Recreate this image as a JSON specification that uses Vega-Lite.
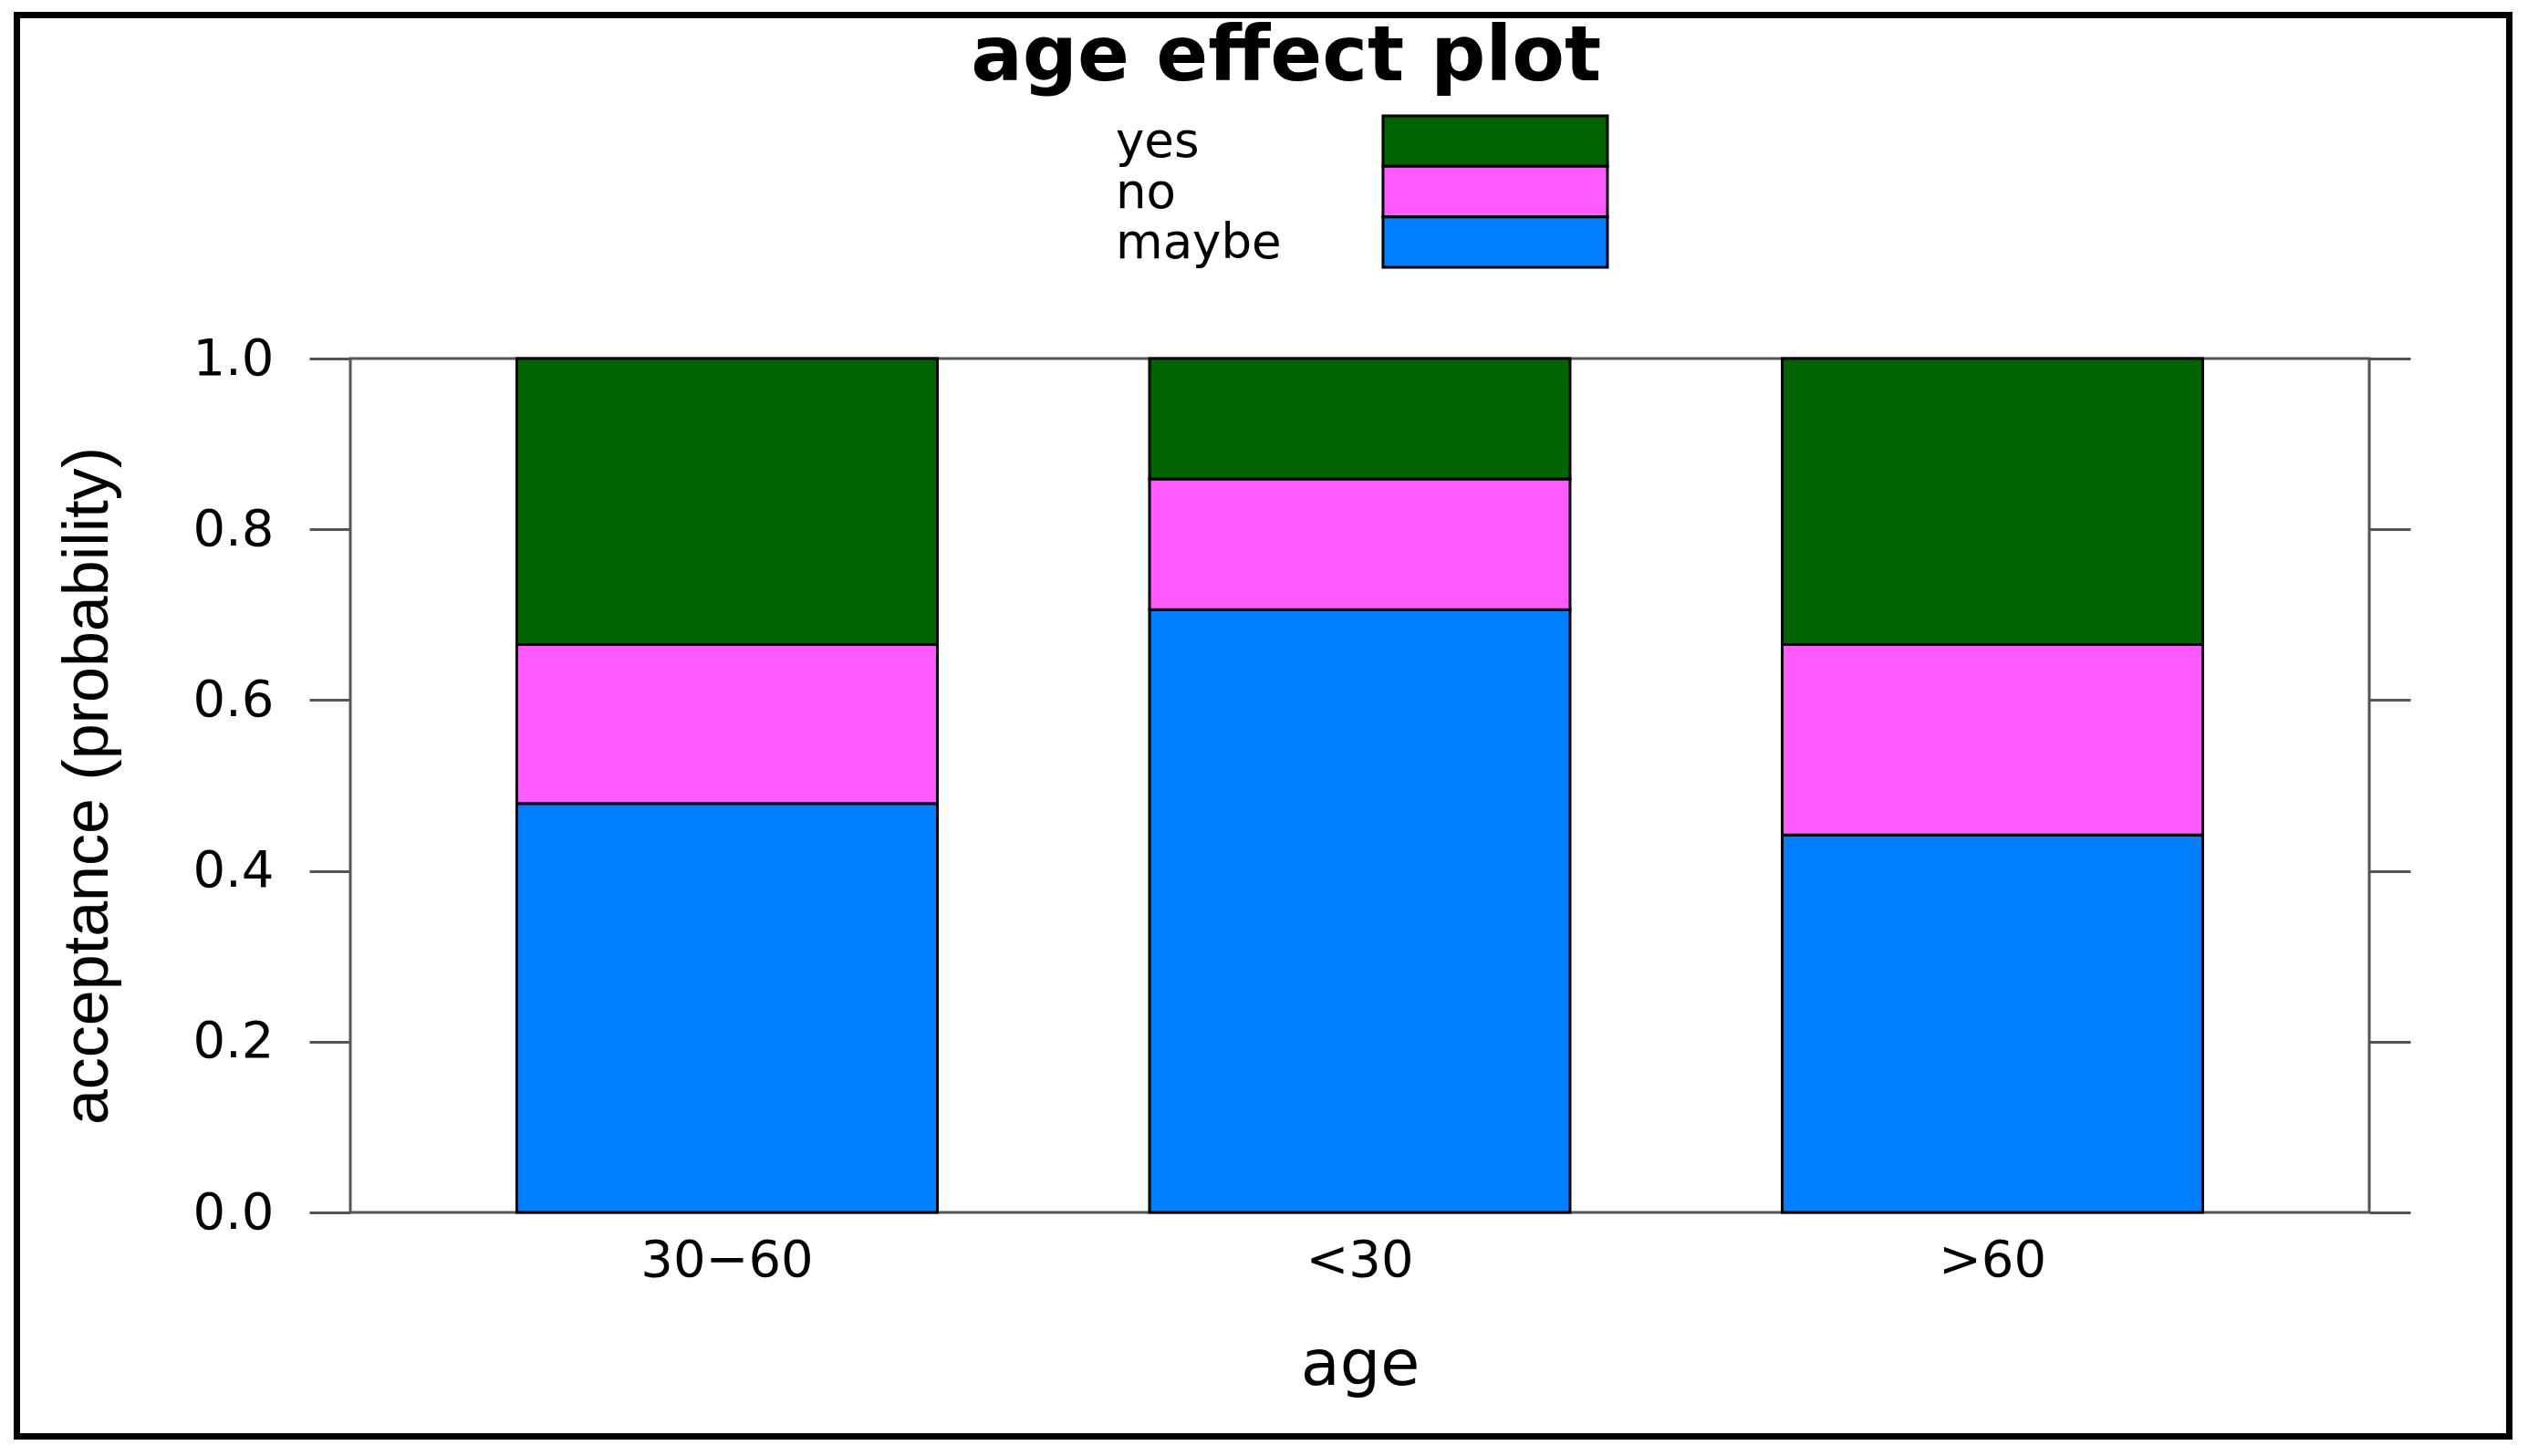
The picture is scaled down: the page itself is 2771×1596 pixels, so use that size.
{
  "$schema": "https://vega.github.io/schema/vega-lite/v6.json",
  "width": 2213,
  "height": 936,
  "autosize": {"type": "none"},
  "padding": {"left": 384, "top": 393, "right": 174, "bottom": 267},
  "background": "white",
  "config": {"view": {"stroke": null}},
  "datasets": {
    "probs": [
      {"age": "30−60", "response": "maybe", "p": 0.479},
      {"age": "30−60", "response": "no", "p": 0.186},
      {"age": "30−60", "response": "yes", "p": 0.335},
      {"age": "<30", "response": "maybe", "p": 0.706},
      {"age": "<30", "response": "no", "p": 0.153},
      {"age": "<30", "response": "yes", "p": 0.141},
      {"age": ">60", "response": "maybe", "p": 0.442},
      {"age": ">60", "response": "no", "p": 0.223},
      {"age": ">60", "response": "yes", "p": 0.335}
    ],
    "legend": [
      {"response": "yes"},
      {"response": "no"},
      {"response": "maybe"}
    ],
    "page": [
      {"title": "age effect plot"}
    ]
  },
  "resolve": {
    "scale": {"x": "independent", "y": "independent"},
    "axis": {"x": "independent", "y": "independent"}
  },
  "layer": [
    {
      "data": {"name": "page"},
      "encoding": {
        "x": {"datum": 0, "type": "quantitative", "scale": {"domain": [0, 1], "range": [-365.5, 2366.5], "nice": false, "zero": false}, "axis": null},
        "y": {"datum": 0, "type": "quantitative", "scale": {"domain": [0, 1], "range": [1181.5, -376.5], "nice": false, "zero": false}, "axis": null}
      },
      "layer": [
        {
          "mark": {"type": "rect", "fill": "transparent", "stroke": "black", "strokeWidth": 7},
          "encoding": {
            "x2": {"datum": 1},
            "y2": {"datum": 1}
          }
        },
        {
          "mark": {"type": "text", "align": "center", "baseline": "alphabetic", "font": "DejaVu Sans", "fontSize": 84, "fontWeight": "bold", "color": "black"},
          "encoding": {
            "x": {"datum": 0.5092, "type": "quantitative"},
            "y": {"datum": 0.9541, "type": "quantitative"},
            "text": {"field": "title"}
          }
        }
      ]
    },
    {
      "data": {"values": [{"item": "box"}]},
      "mark": {"type": "rect", "fill": "transparent", "stroke": "#555555", "strokeWidth": 3},
      "encoding": {
        "y": {
          "datum": 0,
          "type": "quantitative",
          "scale": {"domain": [0, 1], "nice": false},
          "axis": {
            "orient": "right",
            "values": [0, 0.2, 0.4, 0.6, 0.8, 1],
            "labels": false,
            "domain": false,
            "grid": false,
            "ticks": true,
            "tickSize": 45,
            "tickColor": "#555555",
            "tickWidth": 3,
            "title": null
          }
        },
        "y2": {"datum": 1}
      }
    },
    {
      "data": {"name": "probs"},
      "mark": {"type": "bar", "stroke": "black", "strokeWidth": 3},
      "encoding": {
        "x": {
          "field": "age",
          "type": "nominal",
          "sort": ["30−60", "<30", ">60"],
          "scale": {"paddingInner": 0.3353, "paddingOuter": 0.2632},
          "axis": {
            "orient": "bottom",
            "ticks": false,
            "tickSize": 0,
            "domain": false,
            "grid": false,
            "labelAngle": 0,
            "labelLimit": 0,
            "labelFont": "DejaVu Sans",
            "labelFontSize": 56,
            "labelColor": "black",
            "labelPadding": 25,
            "title": "age",
            "titleFont": "DejaVu Sans",
            "titleFontSize": 70,
            "titleFontWeight": "normal",
            "titleColor": "black",
            "titlePadding": 53
          }
        },
        "y": {
          "field": "p",
          "type": "quantitative",
          "stack": "zero",
          "scale": {"domain": [0, 1], "nice": false},
          "axis": {
            "orient": "left",
            "values": [0, 0.2, 0.4, 0.6, 0.8, 1],
            "format": ".1f",
            "domain": false,
            "grid": false,
            "ticks": true,
            "tickSize": 45,
            "tickColor": "#555555",
            "tickWidth": 3,
            "labelFlush": false,
            "labelOverlap": false,
            "labelFont": "DejaVu Sans",
            "labelFontSize": 56,
            "labelColor": "black",
            "labelPadding": 39,
            "title": "acceptance (probability)",
            "titleFont": "Liberation Sans",
            "titleFontSize": 70,
            "titleFontWeight": "normal",
            "titleColor": "black",
            "titlePadding": 78
          }
        },
        "color": {
          "field": "response",
          "type": "nominal",
          "scale": {"domain": ["maybe", "no", "yes"], "range": ["#0080FF", "#FF5AFF", "#006400"]},
          "legend": null
        },
        "order": {"field": "response", "sort": "ascending"}
      }
    },
    {
      "data": {"name": "legend"},
      "layer": [
        {
          "mark": {"type": "rect", "stroke": "black", "strokeWidth": 3},
          "encoding": {
            "x": {"datum": "swatch", "type": "nominal", "scale": {"domain": ["label", "swatch"], "range": [839, 1378], "paddingInner": 0.16, "paddingOuter": 0}, "axis": null},
            "y": {"field": "response", "type": "nominal", "sort": ["yes", "no", "maybe"], "scale": {"domain": ["yes", "no", "maybe"], "range": [-266, -100], "paddingInner": 0, "paddingOuter": 0}, "axis": null},
            "color": {"field": "response", "type": "nominal", "legend": null}
          }
        },
        {
          "mark": {"type": "text", "align": "left", "baseline": "alphabetic", "font": "DejaVu Sans", "fontSize": 53, "color": "black"},
          "encoding": {
            "x": {"datum": "label", "type": "nominal", "bandPosition": 0},
            "y": {"field": "response", "type": "nominal", "sort": ["yes", "no", "maybe"], "bandPosition": 0.82},
            "text": {"field": "response"}
          }
        }
      ]
    }
  ]
}
